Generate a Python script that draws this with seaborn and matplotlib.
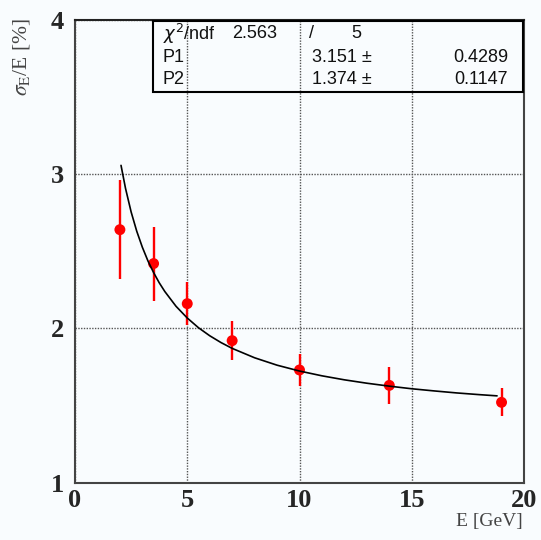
import numpy as np
import seaborn as sns
import matplotlib
matplotlib.use('Agg')
import matplotlib.pyplot as plt
from matplotlib.patches import Rectangle
from matplotlib.ticker import MultipleLocator

# measured points
energy = [2, 3.5, 5, 7, 10, 14, 19]
resolution = [2.64, 2.42, 2.16, 1.92, 1.73, 1.63, 1.52]
res_err = [0.32, 0.24, 0.14, 0.125, 0.105, 0.12, 0.09]

# fit curve
fit_e = [2.05, 2.25, 2.5, 2.75, 3, 3.25, 3.5, 3.75, 4, 4.5, 5, 5.5, 6, 6.5,
         7, 8, 9, 10, 11, 12, 13, 14, 15, 16, 17, 18, 18.8]
fit_val = [3.057, 2.908, 2.755, 2.630, 2.526, 2.437, 2.362, 2.296, 2.239,
           2.143, 2.067, 2.004, 1.952, 1.908, 1.870, 1.809, 1.761, 1.723,
           1.692, 1.666, 1.644, 1.625, 1.608, 1.594, 1.581, 1.570, 1.562]

# stats box
stat_rows = [
    (r'$\chi^2$/ndf', '2.563', '/', '5', ''),
    ('P1', '', '3.151 \u00b1', '', '0.4289'),
    ('P2', '', '1.374 \u00b1', '', '0.1147'),
]

W, H = 541, 540
bg = '#f9fcfe'

sns.set_style('white')
plt.rcParams['font.family'] = ['Liberation Serif', 'DejaVu Serif']

fig = plt.figure(figsize=(W / 100, H / 100), dpi=100, facecolor=bg)
ax = fig.add_axes([75 / W, 57.5 / H, (524 - 75) / W, (482.5 - 20) / H])
ax.set_facecolor(bg)


def px(x, y):
    return x / W, 1 - y / H


ax.errorbar(energy, resolution, yerr=res_err, fmt='none', ecolor='red',
            elinewidth=1.7, capsize=0, zorder=3)
sns.scatterplot(x=energy, y=resolution, color='red', s=62, edgecolor='none',
                zorder=4, ax=ax)
sns.lineplot(x=fit_e, y=fit_val, color='black', linewidth=1.2, ax=ax,
             zorder=5)

ax.set_xlim(0, 20)
ax.set_ylim(1, 4)
ax.xaxis.set_major_locator(MultipleLocator(5))
ax.xaxis.set_minor_locator(MultipleLocator(1))
ax.yaxis.set_major_locator(MultipleLocator(1))
ax.yaxis.set_minor_locator(MultipleLocator(0.25))
ax.tick_params(which='both', direction='in', top=False, right=False,
               color='#444', width=1.0)
ax.tick_params(which='major', length=6.5)
ax.tick_params(which='minor', length=3.6)
ax.tick_params(axis='x', pad=5)
ax.tick_params(axis='y', pad=8)
for lab in ax.get_xticklabels() + ax.get_yticklabels():
    lab.set_fontsize(19)
    lab.set_fontweight('bold')
    lab.set_family('Liberation Serif')

ax.grid(True, which='major', linestyle=(0, (1, 1)), color='#555',
        linewidth=1.0)
for s in ax.spines.values():
    s.set_color('#444')
    s.set_linewidth(1.5)
ax.spines['top'].set_color('#222')

fig.text(*px(22, 18), r'$\sigma_{\rm E}$/E [%]', rotation=90, va='top',
         ha='center', fontsize=15.5, color='#444', math_fontfamily='stix')
fig.text(*px(523, 526), 'E [GeV]', ha='right', va='baseline', fontsize=14,
         color='#444')

# stats box
x0, y0, x1, y1 = 152.7, 20.5, 523, 92
fig.add_artist(Rectangle(px(x0, y1), (x1 - x0) / W, (y1 - y0) / H,
                         transform=fig.transFigure, fill=False,
                         edgecolor='black', linewidth=1.5, zorder=10))
row_y = [34, 57.5, 79]
sans = ['Liberation Sans', 'DejaVu Sans']
for (name, v1, v2, v3, v4), yy in zip(stat_rows, row_y):
    kw = dict(va='center', fontsize=13, family=sans, color='#111',
              math_fontfamily='dejavusans')
    fig.text(*px(163, yy), name, ha='left', **kw)
    if v1:
        fig.text(*px(232, yy), v1, ha='left', **kw)
    fig.text(*px(309 if v2 == '/' else 312, yy), v2, ha='left', **kw)
    if v3:
        fig.text(*px(356, yy), v3, ha='center', **kw)
    if v4:
        fig.text(*px(508, yy), v4, ha='right', **kw)

fig.savefig('out.png', dpi=100, facecolor=bg)
